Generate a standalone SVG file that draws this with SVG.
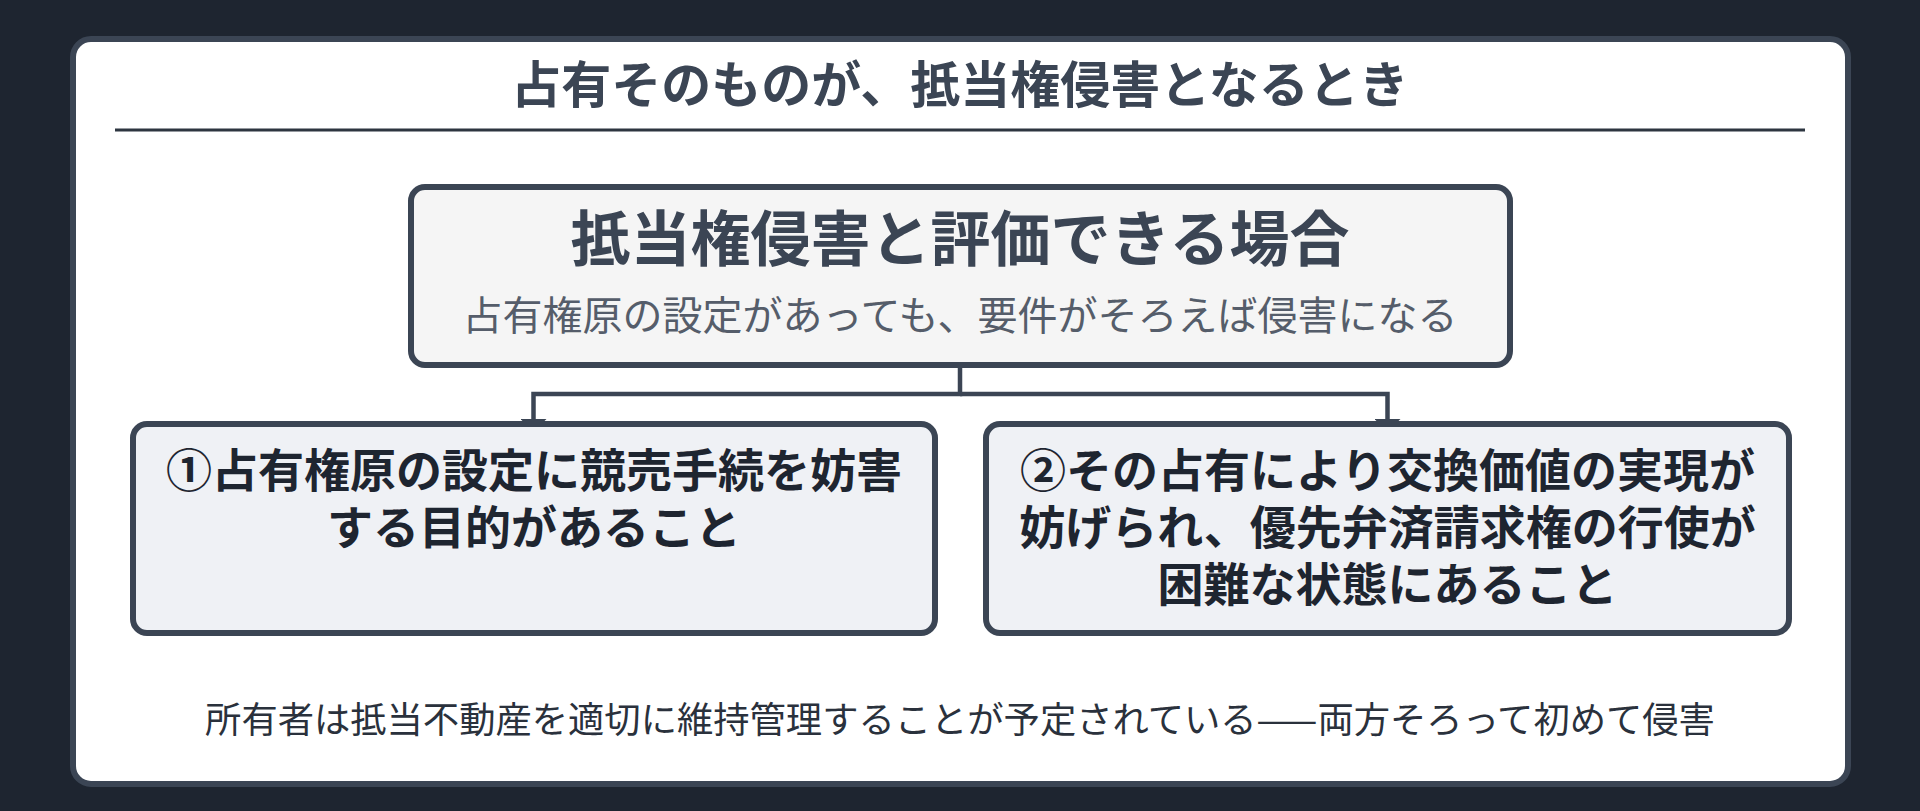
<svg xmlns="http://www.w3.org/2000/svg" width="1920" height="811" viewBox="0 0 1920 811">
  <defs>
    <marker id="arrow" markerUnits="userSpaceOnUse" markerWidth="14" markerHeight="26" viewBox="0 0 14 26" refX="13" refY="13" orient="auto">
      <path d="M0,0 L13,13 L0,26 z" fill="#3b4554"/>
    </marker>
    <style>
      text { font-family: "Noto Sans CJK JP", "Noto Sans", sans-serif; text-anchor: middle; }
      .box { stroke: #3b4554; stroke-width: 6; }
      .child { fill: #eff1f5; }
      .childtext { font-size: 46px; font-weight: 700; fill: #1e2530; }
      .conn { fill: none; stroke: #3b4554; stroke-width: 4.5; }
    </style>
  </defs>
  <rect x="0" y="0" width="1920" height="811" fill="#1e2530"/>
  <g id="panel">
    <rect x="73" y="39" width="1775" height="745" rx="18" fill="#ffffff" stroke="#3b4554" stroke-width="6"/>
    <text x="960" y="103" font-size="50" font-weight="700" fill="#3b4554">占有そのものが、抵当権侵害となるとき</text>
    <line x1="115" y1="130" x2="1805" y2="130" stroke="#2d3540" stroke-width="3"/>
  </g>
  <g id="connectors">
    <path class="conn" d="M960,368 V394 H533.5 V432" marker-end="url(#arrow)"/>
    <path class="conn" d="M960,394 H1387.5 V432" marker-end="url(#arrow)"/>
  </g>
  <g id="node-main">
    <rect class="box" x="411" y="187" width="1099" height="178" rx="14" fill="#f5f5f5"/>
    <text x="960" y="261" font-size="60" font-weight="700" fill="#3b4554">抵当権侵害と評価できる場合</text>
    <text x="960" y="330" font-size="40" fill="#555d6a">占有権原の設定があっても、要件がそろえば侵害になる</text>
  </g>
  <g id="node-1">
    <rect class="box child" x="133" y="424" width="802" height="209" rx="14"/>
    <text class="childtext" x="534" y="487">①占有権原の設定に競売手続を妨害</text>
    <text class="childtext" x="534" y="544">する目的があること</text>
  </g>
  <g id="node-2">
    <rect class="box child" x="986" y="424" width="803" height="209" rx="14"/>
    <text class="childtext" x="1387.5" y="487">②その占有により交換価値の実現が</text>
    <text class="childtext" x="1387.5" y="544">妨げられ、優先弁済請求権の行使が</text>
    <text class="childtext" x="1387.5" y="601">困難な状態にあること</text>
  </g>
  <g id="footer">
    <text x="960" y="733" font-size="36.3" fill="#2a313c">所有者は抵当不動産を適切に維持管理することが予定されている——両方そろって初めて侵害</text>
  </g>
</svg>
